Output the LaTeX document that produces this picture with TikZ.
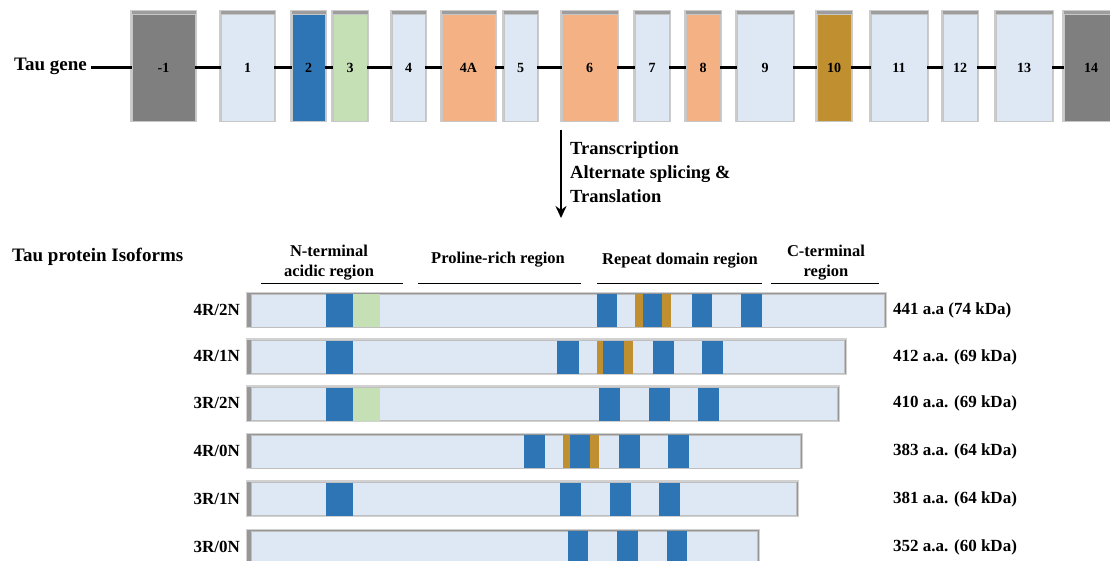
\documentclass[tikz,border=0pt]{standalone}
\usepackage{fontspec}
\setmainfont{Liberation Serif}
\usetikzlibrary{arrows.meta}
\definecolor{exgray}{HTML}{7F7F7F}
\definecolor{lblue}{HTML}{DEE8F4}
\definecolor{dblue}{HTML}{2E75B6}
\definecolor{lgreen}{HTML}{C5E0B4}
\definecolor{orng}{HTML}{F4B183}
\definecolor{gold}{HTML}{C09030}
\definecolor{shd}{HTML}{8C8C8C}
\newcommand\sg[4]{\fill[#1] (#2,#4-16.5) rectangle (#3,#4+16.5);}
\newcommand\isobar[3]{% #1 name, #2 center y, #3 right x
  \fill[shd!40] (245.5,#2-19) rectangle (#3+4,#2+17.5);
  \fill[shd!90] (246.5,#2-17.5) rectangle (#3+3,#2+16.5);
  \node[isob, minimum width={#3-250}, anchor=west] (#1) at (250.5,#2) {};
}
\begin{document}
\begin{tikzpicture}[x=1pt,y=-1pt,
  exon/.style={rectangle, inner sep=0pt, minimum height=107pt, draw=gray!45, line width=0.4pt,
    font=\bfseries\fontsize{14}{16}\selectfont},
  gline/.style={line width=3.2pt, black},
  big/.style={font=\bfseries\fontsize{19}{22}\selectfont, inner sep=2pt},
  hdr/.style={font=\bfseries\fontsize{16.5}{20}\selectfont, align=center, inner sep=0pt},
  rowlab/.style={font=\bfseries\fontsize{17}{20}\selectfont, inner sep=0pt},
  uline/.style={line width=1.8pt, black},
  isob/.style={rectangle, fill=lblue, inner sep=0pt, minimum height=33pt, draw=gray!50, line width=0.4pt}]
\useasboundingbox (0,0) rectangle (1110,560);
\fill[white] (0,0) rectangle (1110,560);

% ---------- Tau gene ----------
\node[big, anchor=east] (tg) at (89,66) {Tau gene};
\foreach \t/\l/\r/\c [count=\i] in {{-1}/132/195/exgray, 1/221/274/lblue, 2/292/325/dblue,
  3/333/367/lgreen, 4/392/425/lblue, 4A/442/495/orng, 5/504/537/lblue, 6/562/617/orng,
  7/635/669/lblue, 8/686/720/orng, 9/737/793/lblue, 10/817/851/gold, 11/871/927/lblue,
  12/943/977/lblue, 13/996/1052/lblue, 14/1064/1118/exgray}{
  \fill[shd!45] (\l-2,10) rectangle (\r+2,122);
  \fill[shd!85] (\l-0.5,11) rectangle (\r+0.5,121);
  \node[exon, fill=\c, minimum width={\r-\l}] (e\i) at ({(\l+\r)/2},67.5) {\t};
}
\draw[gline] ([xshift=2pt]tg.east |- e1.west) -- (e1.west);
\foreach \i [evaluate=\i as \j using int(\i+1)] in {1,...,15}{
  \draw[gline] (e\i.east) -- (e\j.west);
}

% ---------- arrow ----------
\coordinate (a0) at (561,130);
\coordinate (a1) at (561,218);
\draw[line width=2.8pt, -{Stealth[length=12pt,width=11pt]}] (a0) -- (a1);
\node[anchor=north west, align=left, inner sep=0pt,
  font=\bfseries\fontsize{18.5}{24}\selectfont] (tx) at (570,141)
  {Transcription\\Alternate splicing \&\\Translation};

% ---------- isoforms header ----------
\node[big, anchor=west] (tpi) at (10,257) {Tau protein Isoforms};
\node[hdr] (hN) at (329,263) {N-terminal\\acidic region};
\node[hdr] (hP) at (498,260) {Proline-rich region};
\node[hdr] (hR) at (680,261) {Repeat domain region};
\node[hdr] (hC) at (826,263) {C-terminal\\region};
\draw[uline] (261,283.5) -- (403,283.5);
\draw[uline] (418,283.5) -- (581,283.5);
\draw[uline] (597,283.5) -- (762,283.5);
\draw[uline] (771,283.5) -- (879,283.5);

% ---------- rows ----------
% 4R/2N
\isobar{b1}{310.5}{883}
\sg{dblue}{326}{353}{310.5}\sg{lgreen}{353}{380}{310.5}
\sg{dblue}{597}{617}{310.5}\sg{gold}{635}{643}{310.5}\sg{dblue}{643}{662}{310.5}\sg{gold}{662}{671}{310.5}
\sg{dblue}{692}{712}{310.5}\sg{dblue}{741}{762}{310.5}
\node[rowlab, anchor=east] (l1) at (240,310) {4R/2N};
\node[rowlab, anchor=west] (m1) at (893,310) {441 a.a (74 kDa)};
% 4R/1N
\isobar{b2}{357}{843}
\sg{dblue}{326}{353}{357}
\sg{dblue}{557}{579}{357}\sg{gold}{597}{603}{357}\sg{dblue}{603}{624}{357}\sg{gold}{624}{633}{357}
\sg{dblue}{653}{674}{357}\sg{dblue}{702}{723}{357}
\node[rowlab, anchor=east] (l2) at (240,356) {4R/1N};
\node[rowlab, anchor=west] (m2) at (893,357) {412 a.a. (69 kDa)};
% 3R/2N
\isobar{b3}{404}{836}
\sg{dblue}{326}{353}{404}\sg{lgreen}{353}{380}{404}
\sg{dblue}{599}{620}{404}\sg{dblue}{649}{670}{404}\sg{dblue}{698}{719}{404}
\node[rowlab, anchor=east] (l3) at (240,403) {3R/2N};
\node[rowlab, anchor=west] (m3) at (893,403) {410 a.a. (69 kDa)};
% 4R/0N
\isobar{b4}{451.5}{799}
\sg{dblue}{524}{545}{451.5}\sg{gold}{563}{570}{451.5}\sg{dblue}{570}{590}{451.5}\sg{gold}{590}{599}{451.5}
\sg{dblue}{619}{640}{451.5}\sg{dblue}{668}{689}{451.5}
\node[rowlab, anchor=east] (l4) at (240,451) {4R/0N};
\node[rowlab, anchor=west] (m4) at (893,451) {383 a.a. (64 kDa)};
% 3R/1N
\isobar{b5}{499}{795}
\sg{dblue}{326}{353}{499}
\sg{dblue}{560}{581}{499}\sg{dblue}{610}{631}{499}\sg{dblue}{659}{680}{499}
\node[rowlab, anchor=east] (l5) at (240,499) {3R/1N};
\node[rowlab, anchor=west] (m5) at (893,499) {381 a.a. (64 kDa)};
% 3R/0N
\isobar{b6}{547.5}{756}
\sg{dblue}{568}{588}{547.5}\sg{dblue}{617}{638}{547.5}\sg{dblue}{667}{687}{547.5}
\node[rowlab, anchor=east] (l6) at (240,547) {3R/0N};
\node[rowlab, anchor=west] (m6) at (893,547) {352 a.a. (60 kDa)};
\end{tikzpicture}
\end{document}
